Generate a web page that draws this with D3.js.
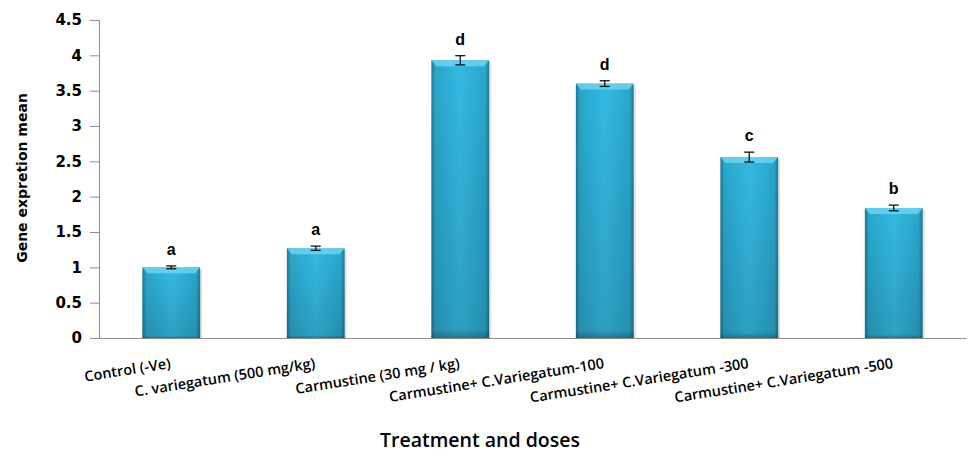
<!DOCTYPE html>
<html><head><meta charset="utf-8">
<script src="https://cdn.jsdelivr.net/npm/d3@7"></script>
<style>body{margin:0;background:#fff}svg{display:block}</style>
</head><body>
<script>
const categories = ["Control (-Ve)", "C. variegatum (500 mg/kg)", "Carmustine (30 mg / kg)", "Carmustine+ C.Variegatum-100", "Carmustine+ C.Variegatum -300", "Carmustine+ C.Variegatum -500"];
const means = [1.0, 1.27, 3.93, 3.60, 2.56, 1.84];
const errors = [0.02, 0.03, 0.065, 0.04, 0.07, 0.04];
const letters = ["a", "a", "d", "d", "c", "b"];
const yTicks = [0, 0.5, 1, 1.5, 2, 2.5, 3, 3.5, 4, 4.5];

const W = 973, H = 455;
const m = {left: 99, right: 7, top: 20, bottom: 117};
const svg = d3.select("body").append("svg").attr("width", W).attr("height", H);

const x = d3.scaleBand().domain(categories).range([m.left, W - m.right]).paddingInner(0.6).paddingOuter(0.3);
const y = d3.scaleLinear().domain([0, 4.5]).range([H - m.bottom, m.top]);

const defs = svg.append("defs");
const g1 = defs.append("linearGradient").attr("id", "hg").attr("x1", 0).attr("x2", 1).attr("y1", 0).attr("y2", 0);
[[0, "#1c7896"], [0.07, "#2aa6cc"], [0.5, "#33bbe2"], [0.93, "#2aa6cc"], [1, "#1c7896"]].forEach(s => g1.append("stop").attr("offset", s[0]).attr("stop-color", s[1]));
const g2 = defs.append("linearGradient").attr("id", "vg").attr("x1", 0).attr("x2", 0).attr("y1", 0).attr("y2", 1);
[[0, "#000", 0], [0.97, "#000", 0.14], [1, "#000", 0.35]].forEach(s => g2.append("stop").attr("offset", s[0]).attr("stop-color", s[1]).attr("stop-opacity", s[2]));

// axes
const yAxis = svg.append("g").attr("transform", `translate(${m.left},0)`)
  .call(d3.axisLeft(y).tickValues(yTicks).tickSize(9).tickPadding(8).tickFormat(d3.format("")));
yAxis.select(".domain").attr("stroke", "#8c8c8c");
yAxis.selectAll(".tick line").attr("stroke", "#8c8c8c");
yAxis.selectAll("text").attr("font-family", "DejaVu Sans").attr("font-weight", "bold").attr("font-size", 15).attr("fill", "#000");

const xAxis = svg.append("g").attr("transform", `translate(0,${y(0)})`)
  .call(d3.axisBottom(x).tickSize(0).tickFormat(""));
xAxis.select(".domain").attr("stroke", "#8c8c8c");

// bars
const bw = x.bandwidth();
const bars = svg.append("g").selectAll("g").data(categories).join("g");
bars.append("rect").attr("x", d => x(d) + 2).attr("y", (d, i) => y(means[i]) + 2)
  .attr("width", bw).attr("height", (d, i) => y(0) - y(means[i]) - 2).attr("fill", "#000").attr("opacity", 0.12);
bars.append("rect").attr("x", d => x(d)).attr("y", (d, i) => y(means[i]))
  .attr("width", bw).attr("height", (d, i) => y(0) - y(means[i])).attr("fill", "url(#hg)");
bars.append("rect").attr("x", d => x(d)).attr("y", (d, i) => y(means[i]))
  .attr("width", bw).attr("height", (d, i) => y(0) - y(means[i])).attr("fill", "url(#vg)");
bars.append("path").attr("d", (d, i) => {
  const x0 = x(d), x1 = x(d) + bw, t = y(means[i]);
  return `M${x0},${t}L${x1},${t}L${x1 - 5},${t + 6}L${x0 + 5},${t + 6}Z`;
}).attr("fill", "#6fd6f2").attr("opacity", 0.8);

// error bars
const eb = svg.append("g").attr("stroke", "#111").attr("stroke-width", 1.3);
categories.forEach((c, i) => {
  const cx = x(c) + bw / 2;
  const t = y(means[i] + errors[i]), b = y(means[i] - errors[i]);
  eb.append("line").attr("x1", cx).attr("x2", cx).attr("y1", t).attr("y2", b);
  eb.append("line").attr("x1", cx - 5).attr("x2", cx + 5).attr("y1", t).attr("y2", t);
  eb.append("line").attr("x1", cx - 5).attr("x2", cx + 5).attr("y1", b).attr("y2", b);
});

// letters
svg.append("g").selectAll("text").data(categories).join("text")
  .attr("x", d => x(d) + bw / 2).attr("y", (d, i) => y(means[i] + errors[i]) - 11)
  .attr("text-anchor", "middle").attr("font-family", "Liberation Sans").attr("font-weight", "bold")
  .attr("font-size", 16).text((d, i) => letters[i]);

// category labels
svg.append("g").selectAll("text").data(categories).join("text")
  .attr("transform", d => `translate(${x(d) + bw / 2},${y(0) + 30}) rotate(-9)`)
  .attr("text-anchor", "end").attr("font-family", "Open Sans").attr("font-weight", 600)
  .attr("font-size", 14.5).attr("fill", "#000").text(d => d);

// axis titles
svg.append("text").attr("x", 480).attr("y", 447).attr("text-anchor", "middle")
  .attr("font-family", "Open Sans").attr("font-weight", 600).attr("font-size", 19.5).text("Treatment and doses");
svg.append("text").attr("transform", "translate(27,178) rotate(-90)").attr("text-anchor", "middle")
  .attr("font-family", "DejaVu Sans").attr("font-weight", "bold").attr("font-size", 14).text("Gene expretion mean");
</script>
</body></html>
